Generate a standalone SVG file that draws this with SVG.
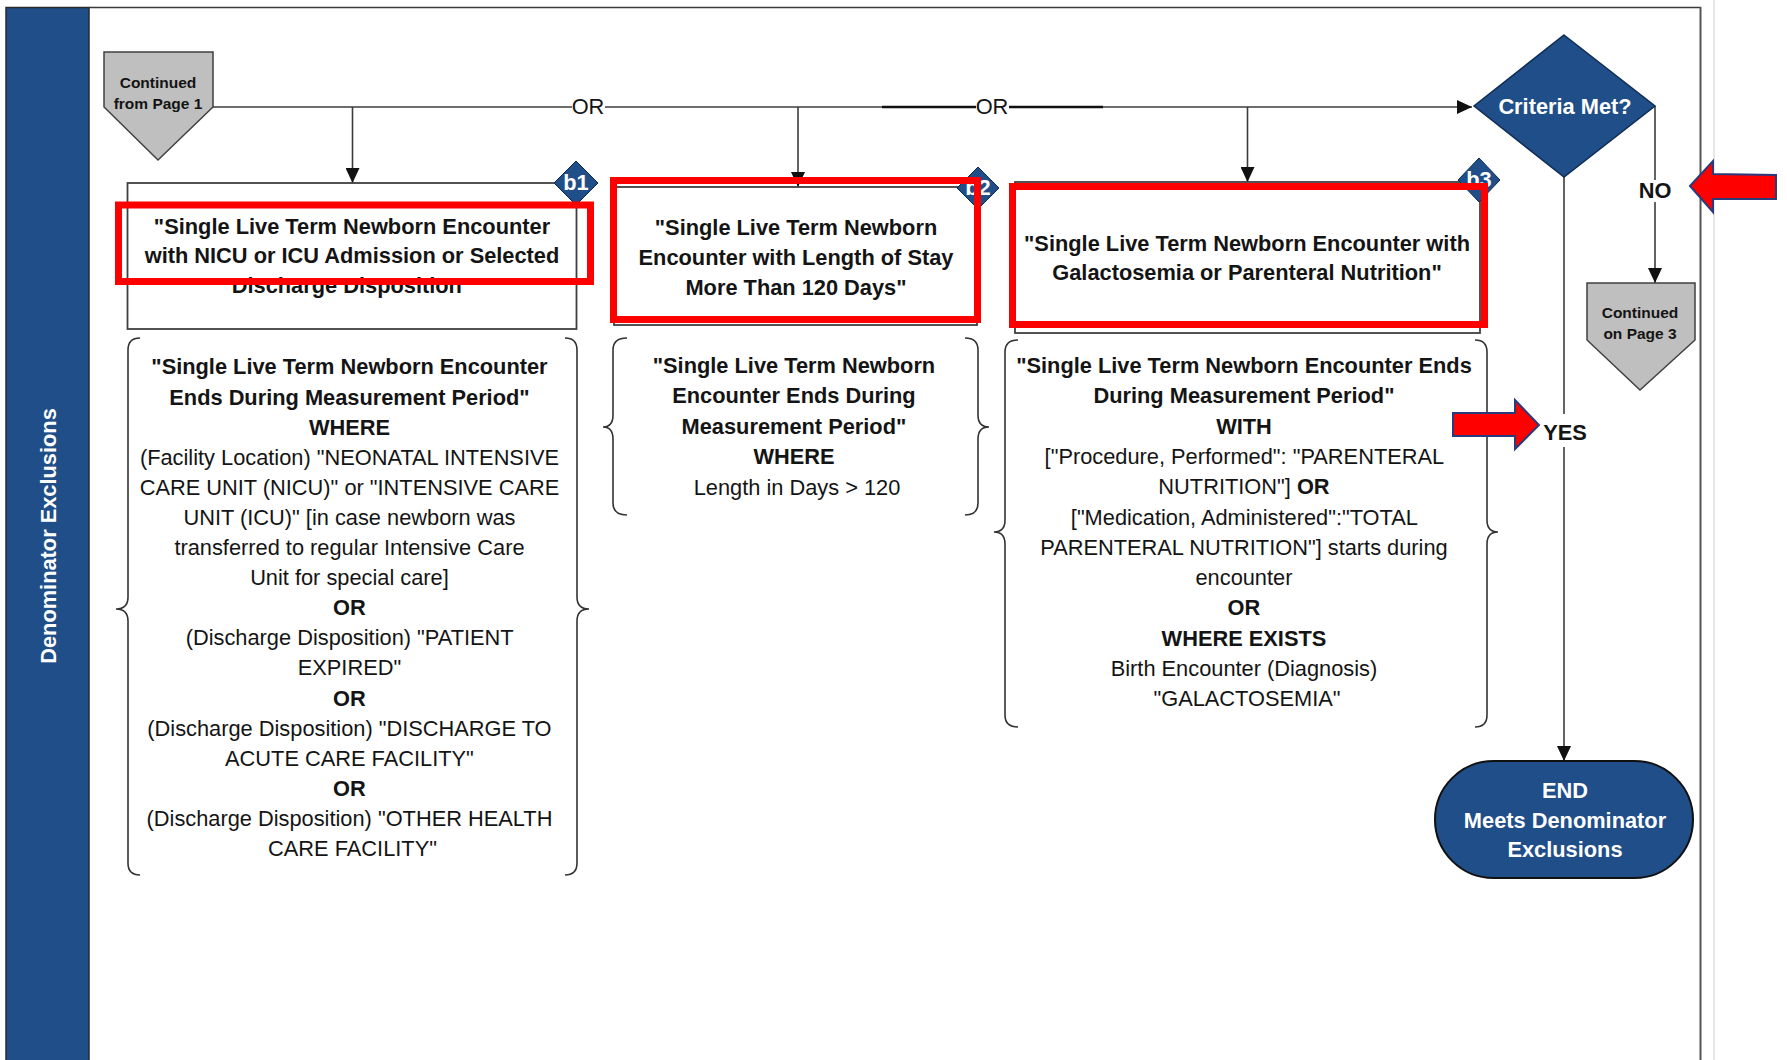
<svg xmlns="http://www.w3.org/2000/svg" width="1787" height="1060" viewBox="0 0 1787 1060">
<style>
.t{font-family:"Liberation Sans",Arial,sans-serif;font-size:21.8px;fill:#141414;text-anchor:middle}
.b{font-weight:bold}
.w{fill:#fff;font-weight:bold}
.s{font-size:15.5px;font-weight:bold}
.box{fill:#fff;stroke:#404040;stroke-width:1.8}
.brace{fill:none;stroke:#333;stroke-width:1.6}
.red{fill:none;stroke:#ff0000;stroke-width:7}
.ln{stroke:#3c3c3c;stroke-width:1.6;fill:none}
.thick{stroke:#111;stroke-width:2.6}
.badge{fill:#1f4e89;stroke:#0d2a52;stroke-width:1}
.cont{fill:#bfbfbf;stroke:#404040;stroke-width:1.5}
.redarrow{fill:#ff0000;stroke:#2b3a7a;stroke-width:2}
</style>
<defs>
<marker id="ah" viewBox="0 0 15 14" refX="15" refY="7" markerWidth="15" markerHeight="14" markerUnits="userSpaceOnUse" orient="auto">
<path d="M0,0 L15,7 L0,14 z" fill="#111"/>
</marker>
</defs>
<rect width="1787" height="1060" fill="#fff"/>

<g id="frame">
<rect x="6" y="7.5" width="83" height="1060" fill="#1f4e89" stroke="#2a2a2a" stroke-width="1.5"/>
<line x1="89" y1="7.5" x2="1701" y2="7.5" stroke="#3a3a3a" stroke-width="1.5"/>
<line x1="1700.5" y1="7" x2="1700.5" y2="1060" stroke="#555" stroke-width="2"/>
<line x1="1714" y1="0" x2="1714" y2="1060" stroke="#d0d0d0" stroke-width="1"/>
<text class="t w" font-size="24" transform="translate(56,536) rotate(-90)" x="0" y="0">Denominator Exclusions</text>
</g>

<g id="connectors">
<line class="ln" x1="213" y1="107" x2="572" y2="107"/>
<line class="ln" x1="605" y1="107" x2="976" y2="107"/>
<line class="ln thick" x1="882" y1="107" x2="976" y2="107"/>
<line class="ln" x1="1009" y1="107" x2="1472" y2="107" marker-end="url(#ah)"/>
<line class="ln thick" x1="1009" y1="107" x2="1103" y2="107"/>
<text class="t" font-size="21" x="588" y="114">OR</text>
<text class="t" font-size="21" x="992" y="114">OR</text>
<line class="ln" x1="352.5" y1="107" x2="352.5" y2="183" marker-end="url(#ah)"/>
<line class="ln" x1="798" y1="107" x2="798" y2="187" marker-end="url(#ah)"/>
<line class="ln" x1="1247.5" y1="107" x2="1247.5" y2="182" marker-end="url(#ah)"/>
<line class="ln" x1="1655" y1="106" x2="1655" y2="180"/>
<line class="ln" x1="1655" y1="202" x2="1655" y2="283" marker-end="url(#ah)"/>
<text class="t b" font-size="21" x="1655" y="197.5">NO</text>
<line class="ln" x1="1564" y1="177" x2="1564" y2="414"/>
<line class="ln" x1="1564" y1="447" x2="1564" y2="761" marker-end="url(#ah)"/>
<text class="t b" font-size="19" x="1565" y="440">YES</text>
</g>

<g id="start">
<polygon class="cont" points="104,52 213,52 213,107 158,160 104,107"/>
<text class="t s" x="158" y="88">Continued</text>
<text class="t s" x="158" y="109">from Page 1</text>
</g>

<g id="b1">
<rect class="box" x="127.5" y="183" width="449" height="146"/>
<text class="t b" x="352" y="234">"Single Live Term Newborn Encounter</text>
<text class="t b" x="352" y="263">with NICU or ICU Admission or Selected</text>
<text class="t b" x="352" y="293">Discharge Disposition"</text>
<polygon class="badge" points="576,161 598,183 576,205 554,183"/>
<text class="t w" font-size="19" x="576" y="190">b1</text>
</g>

<g id="b1-criteria">
<path class="brace" d="M140,338 Q128,338 128,350 L128,597 Q128,609 116,609 Q128,609 128,621 L128,863 Q128,875 140,875"/>
<path class="brace" d="M565,338 Q577,338 577,350 L577,597 Q577,609 589,609 Q577,609 577,621 L577,863 Q577,875 565,875"/>
<text class="t">
<tspan class="b" x="352.5" y="374.4">"Single Live Term Newborn Encounter</tspan>
<tspan class="b" x="352.5" y="404.5">Ends During Measurement Period"</tspan>
<tspan class="b" x="352.5" y="434.6">WHERE</tspan>
<tspan x="352.5" y="464.7">(Facility Location) "NEONATAL INTENSIVE</tspan>
<tspan x="352.5" y="494.8">CARE UNIT (NICU)" or "INTENSIVE CARE</tspan>
<tspan x="352.5" y="524.9">UNIT (ICU)" [in case newborn was</tspan>
<tspan x="352.5" y="555">transferred to regular Intensive Care</tspan>
<tspan x="352.5" y="585.1">Unit for special care]</tspan>
<tspan class="b" x="352.5" y="615.2">OR</tspan>
<tspan x="352.5" y="645.3">(Discharge Disposition) "PATIENT</tspan>
<tspan x="352.5" y="675.4">EXPIRED"</tspan>
<tspan class="b" x="352.5" y="705.5">OR</tspan>
<tspan x="352.5" y="735.6">(Discharge Disposition) "DISCHARGE TO</tspan>
<tspan x="352.5" y="765.7">ACUTE CARE FACILITY"</tspan>
<tspan class="b" x="352.5" y="795.8">OR</tspan>
<tspan x="352.5" y="825.9">(Discharge Disposition) "OTHER HEALTH</tspan>
<tspan x="352.5" y="856">CARE FACILITY"</tspan>
</text>
</g>

<g id="b2">
<rect class="box" x="614" y="187" width="363" height="138"/>
<text class="t b" x="796" y="234.5">"Single Live Term Newborn</text>
<text class="t b" x="796" y="264.5">Encounter with Length of Stay</text>
<text class="t b" x="796" y="294.5">More Than 120 Days"</text>
<polygon class="badge" points="978,167 999,188 978,209 957,188"/>
<text class="t w" font-size="19" x="978" y="195">b2</text>
</g>

<g id="b2-criteria">
<path class="brace" d="M627,338 Q613,338 613,350 L613,415 Q613,427 603,427 Q613,427 613,439 L613,503 Q613,515 627,515"/>
<path class="brace" d="M965,338 Q978,338 978,350 L978,415 Q978,427 989,427 Q978,427 978,439 L978,503 Q978,515 965,515"/>
<text class="t">
<tspan class="b" x="797" y="373">"Single Live Term Newborn</tspan>
<tspan class="b" x="797" y="403.4">Encounter Ends During</tspan>
<tspan class="b" x="797" y="433.8">Measurement Period"</tspan>
<tspan class="b" x="797" y="464.2">WHERE</tspan>
<tspan x="797" y="494.6">Length in Days &gt; 120</tspan>
</text>
</g>

<g id="b3">
<rect class="box" x="1015" y="182" width="465" height="151"/>
<text class="t b" x="1247" y="251">"Single Live Term Newborn Encounter with</text>
<text class="t b" x="1247" y="280">Galactosemia or Parenteral Nutrition"</text>
<polygon class="badge" points="1479,158 1500,180 1479,202 1458,180"/>
<text class="t w" font-size="19" x="1479" y="187">b3</text>
</g>

<g id="b3-criteria">
<path class="brace" d="M1018,340 Q1005,340 1005,352 L1005,520 Q1005,532 994,532 Q1005,532 1005,544 L1005,715 Q1005,727 1018,727"/>
<path class="brace" d="M1475,340 Q1487,340 1487,352 L1487,520 Q1487,532 1498,532 Q1487,532 1487,544 L1487,715 Q1487,727 1475,727"/>
<text class="t">
<tspan class="b" x="1247" y="373">"Single Live Term Newborn Encounter Ends</tspan>
<tspan class="b" x="1247" y="403.3">During Measurement Period"</tspan>
<tspan class="b" x="1247" y="433.6">WITH</tspan>
<tspan x="1247" y="463.9">["Procedure, Performed": "PARENTERAL</tspan>
<tspan x="1247" y="494.2">NUTRITION"] <tspan class="b">OR</tspan></tspan>
<tspan x="1247" y="524.5">["Medication, Administered":"TOTAL</tspan>
<tspan x="1247" y="554.8">PARENTERAL NUTRITION"] starts during</tspan>
<tspan x="1247" y="585.1">encounter</tspan>
<tspan class="b" x="1247" y="615.4">OR</tspan>
<tspan class="b" x="1247" y="645.7">WHERE EXISTS</tspan>
<tspan x="1247" y="676">Birth Encounter (Diagnosis)</tspan>
<tspan x="1247" y="706.3">"GALACTOSEMIA"</tspan>
</text>
</g>

<g id="criteria">
<polygon points="1564,35 1655,106 1564,177 1474,106" fill="#1f4e89" stroke="#0f2d55" stroke-width="1.5"/>
<text class="t w" font-size="22.5" x="1565" y="114">Criteria Met?</text>
</g>

<g id="page3">
<polygon class="cont" points="1587,283 1695,283 1695,340 1640,390 1587,340"/>
<text class="t s" x="1640" y="318">Continued</text>
<text class="t s" x="1640" y="339">on Page 3</text>
</g>

<g id="end">
<rect x="1435" y="761" width="258" height="117" rx="58.5" ry="58.5" fill="#1f4e89" stroke="#111" stroke-width="2"/>
<text class="t w" font-size="22.5" x="1565" y="798">END</text>
<text class="t w" font-size="22.5" x="1565" y="828">Meets Denominator</text>
<text class="t w" font-size="22.5" x="1565" y="857">Exclusions</text>
</g>

<g id="highlights">
<rect class="red" x="118.5" y="205" width="472" height="76.5"/>
<rect class="red" x="613.5" y="180.5" width="364" height="139"/>
<rect class="red" x="1012.5" y="186.5" width="472" height="138"/>
<polygon class="redarrow" points="1690,186 1713,161 1713,174 1776,175 1776,199 1713,199 1713,212"/>
<polygon class="redarrow" points="1453,413 1515,413 1515,400 1539,425 1515,449 1515,436 1453,436"/>
</g>
</svg>
